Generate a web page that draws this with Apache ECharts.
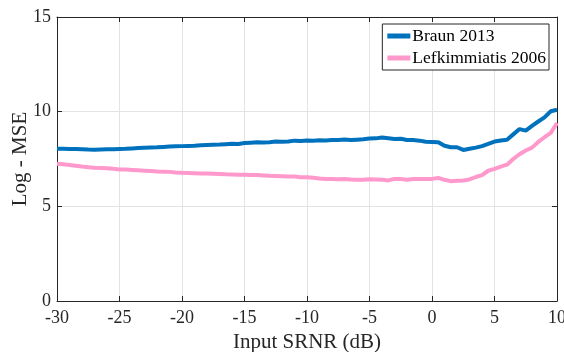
<!DOCTYPE html>
<html><head><meta charset="utf-8">
<script src="https://cdn.jsdelivr.net/npm/echarts@6/dist/echarts.min.js"></script>
<style>html,body{margin:0;padding:0;background:#fff}#c{width:564px;height:352px}</style>
</head><body><div id="c"></div>
<script>
const xValues = [-30,-29.5,-29,-28.5,-28,-27.5,-27,-26.5,-26,-25.5,-25,-24.5,-24,-23.5,-23,-22.5,-22,-21.5,-21,-20.5,-20,-19.5,-19,-18.5,-18,-17.5,-17,-16.5,-16,-15.5,-15,-14.5,-14,-13.5,-13,-12.5,-12,-11.5,-11,-10.5,-10,-9.5,-9,-8.5,-8,-7.5,-7,-6.5,-6,-5.5,-5,-4.5,-4,-3.5,-3,-2.5,-2,-1.5,-1,-0.5,0,0.5,1,1.5,2,2.5,3,3.5,4,4.5,5,5.5,6,6.5,7,7.5,8,8.5,9,9.5,10];
const braun = [8.04,8.04,8.03,8.03,8.02,8.00,7.99,8.00,8.01,8.02,8.03,8.04,8.06,8.08,8.10,8.11,8.12,8.14,8.16,8.17,8.18,8.19,8.20,8.22,8.24,8.25,8.26,8.28,8.30,8.29,8.34,8.36,8.38,8.37,8.39,8.42,8.41,8.43,8.47,8.45,8.48,8.46,8.49,8.48,8.50,8.50,8.53,8.50,8.52,8.54,8.58,8.59,8.63,8.60,8.56,8.57,8.50,8.50,8.47,8.41,8.40,8.39,8.20,8.12,8.12,7.98,8.04,8.10,8.18,8.30,8.42,8.48,8.52,8.80,9.08,9.00,9.25,9.48,9.70,10.02,10.10];
const lefk = [7.25,7.22,7.18,7.14,7.10,7.07,7.04,7.03,7.01,6.98,6.95,6.94,6.92,6.90,6.88,6.86,6.84,6.83,6.82,6.79,6.77,6.76,6.75,6.74,6.73,6.72,6.71,6.69,6.68,6.67,6.67,6.66,6.65,6.63,6.61,6.60,6.59,6.58,6.57,6.54,6.54,6.51,6.47,6.45,6.44,6.43,6.44,6.42,6.41,6.41,6.43,6.42,6.41,6.37,6.45,6.44,6.41,6.44,6.45,6.44,6.45,6.50,6.40,6.33,6.35,6.36,6.42,6.55,6.65,6.88,6.98,7.10,7.20,7.50,7.75,7.95,8.10,8.40,8.65,8.88,9.40];
const seriesNames = ['Braun 2013','Lefkimmiatis 2006'];
const xTicks = [-30,-25,-20,-15,-10,-5,0,5,10];
const yTicks = [0,5,10,15];

const font = 'Liberation Serif';
const chart = echarts.init(document.getElementById('c'));
const tickStyle = {show:true, inside:true, length:5, lineStyle:{color:'#262626', width:1}};
const line = {show:true, onZero:false, lineStyle:{color:'#262626', width:1}};
chart.setOption({
  animation:false,
  textStyle:{fontFamily:font},
  grid:{left:57, right:7, top:17, bottom:51, show:false, containLabel:false, outerBoundsMode:'none'},
  legend:{
    orient:'vertical', right:15, top:24, data:seriesNames,
    backgroundColor:'#fff', borderColor:'#262626', borderWidth:1, padding:[3,3,3,5],
    itemGap:4, itemWidth:23, itemHeight:5, icon:'rect',
    textStyle:{fontFamily:font, fontSize:17.5, color:'#000', padding:[0,0,0,-3]}
  },
  xAxis:[{
    type:'value', min:-30, max:10, interval:5,
    axisLine:line,
    axisTick:tickStyle,
    axisLabel:{fontFamily:font, fontSize:18, color:'#262626', margin:8, hideOverlap:false},
    splitLine:{show:true, lineStyle:{color:'#e3e3e3', width:1}},
    name:'Input SRNR (dB)', nameLocation:'middle', nameGap:31, nameMoveOverlap:false,
    nameTextStyle:{fontFamily:font, fontSize:21, color:'#262626'}
  },{
    type:'value', min:-30, max:10, interval:5, position:'top',
    axisLine:line,
    axisTick:tickStyle, axisLabel:{show:false}, splitLine:{show:false}
  }],
  yAxis:[{
    type:'value', min:0, max:15, interval:5,
    axisLine:line,
    axisTick:tickStyle,
    axisLabel:{fontFamily:font, fontSize:18, color:'#262626', margin:6},
    splitLine:{show:true, lineStyle:{color:'#e3e3e3', width:1}},
    name:'Log - MSE', nameLocation:'middle', nameGap:26, nameMoveOverlap:false,
    nameTextStyle:{fontFamily:font, fontSize:21, color:'#262626'}
  },{
    type:'value', min:0, max:15, interval:5, position:'right',
    axisLine:line,
    axisTick:tickStyle, axisLabel:{show:false}, splitLine:{show:false}
  }],
  series:[
    {name:seriesNames[0], type:'line', showSymbol:false, symbol:'none', color:'#0072BD',
     lineStyle:{width:4, color:'#0072BD'}, data:xValues.map((x,i)=>[x,braun[i]])},
    {name:seriesNames[1], type:'line', showSymbol:false, symbol:'none', color:'#FF99CC',
     lineStyle:{width:4, color:'#FF99CC'}, data:xValues.map((x,i)=>[x,lefk[i]])}
  ]
});
</script></body></html>
